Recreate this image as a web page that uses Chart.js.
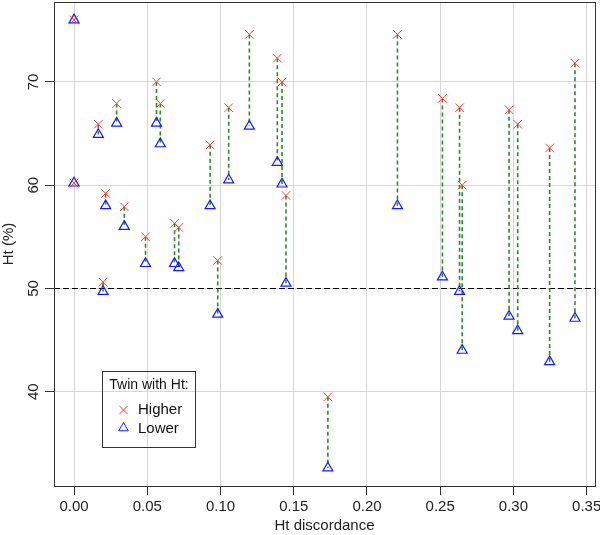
<!DOCTYPE html>
<html>
<head>
<meta charset="utf-8">
<script src="https://cdn.jsdelivr.net/npm/chart.js@4/dist/chart.umd.min.js"></script>
<style>
  html, body { margin: 0; padding: 0; background: #fff; }
  #wrap { width: 600px; height: 535px; }
</style>
</head>
<body>
<div id="wrap"><canvas id="c" width="600" height="535"></canvas></div>
<script>
// ---- data ----
const discordance = [0, 0, 0.0166, 0.0198, 0.0216, 0.0291, 0.0343, 0.0488, 0.0563, 0.0589, 0.0686, 0.0715, 0.0929, 0.0981, 0.1056, 0.1197, 0.1388, 0.1420, 0.1447, 0.1733, 0.2208, 0.2515, 0.2632, 0.2650, 0.2970, 0.3029, 0.3247, 0.3420];
const htHigher = [76.0, 60.2, 65.9, 50.6, 59.2, 67.9, 57.9, 55.0, 70.0, 67.9, 56.3, 55.9, 63.9, 52.7, 67.5, 74.6, 72.3, 70.0, 59.0, 39.5, 74.6, 68.4, 67.5, 60.0, 67.3, 65.9, 63.6, 71.8];
const htLower  = [76.0, 60.2, 64.9, 49.7, 58.0, 66.0, 56.0, 52.4, 66.0, 64.0, 52.4, 52.0, 58.0, 47.5, 60.5, 65.7, 62.2, 60.1, 50.5, 32.6, 58.0, 51.1, 49.7, 44.0, 47.3, 45.9, 42.9, 47.1];
const xTicks = [0, 0.05, 0.10, 0.15, 0.20, 0.25, 0.30, 0.35];
const yTicks = [40, 50, 60, 70];
const refLine = 50;
const legendTitle = 'Twin with Ht:';
const legendLabels = ['Higher', 'Lower'];

// ---- derived ----
const xSpan = Math.max(...discordance) - Math.min(...discordance);
const allY = htHigher.concat(htLower);
const ySpan = Math.max(...allY) - Math.min(...allY);
const xMin = Math.min(...discordance) - 0.04 * xSpan, xMax = Math.max(...discordance) + 0.04 * xSpan;
const yMin = Math.min(...allY) - 0.04 * ySpan, yMax = Math.max(...allY) + 0.04 * ySpan;

const higherPts = discordance.map((x, i) => ({x, y: htHigher[i]}));
const lowerPts = discordance.map((x, i) => ({x, y: htLower[i]}));
const linkPts = [];
discordance.forEach((x, i) => {
  linkPts.push({x, y: htHigher[i]}, {x, y: htLower[i]}, {x, y: null});
});

const FONT = "'Liberation Sans', Arial, sans-serif";
const RED = '#ff3b3b', BLUE = '#1a1aff', GREEN = '#2a8a2a', AXIS = '#333333', GRID = '#d6d6d6';

const framePlugin = {
  id: 'frame',
  beforeDatasetsDraw(chart) {
    const {ctx, chartArea: a, scales: {y}} = chart;
    const py = y.getPixelForValue(refLine);
    ctx.save();
    ctx.strokeStyle = '#000';
    ctx.lineWidth = 1;
    ctx.setLineDash([6, 3]);
    ctx.beginPath();
    ctx.moveTo(a.left, Math.round(py) + 0.5);
    ctx.lineTo(a.right, Math.round(py) + 0.5);
    ctx.stroke();
    ctx.restore();
  },
  afterDraw(chart) {
    const {ctx, chartArea: a} = chart;
    ctx.save();
    ctx.strokeStyle = AXIS;
    ctx.lineWidth = 1;
    ctx.strokeRect(Math.round(a.left) + 0.5, Math.round(a.top) + 0.5, Math.round(a.right - a.left), Math.round(a.bottom - a.top));
    // legend
    const bx = 102.5, by = 371.5, bw = 93, bh = 76;
    ctx.strokeRect(bx, by, bw, bh);
    ctx.fillStyle = '#111';
    ctx.textBaseline = 'middle';
    ctx.textAlign = 'center';
    ctx.font = '14px ' + FONT;
    ctx.fillText(legendTitle, bx + bw / 2, 385);
    ctx.textAlign = 'left';
    ctx.font = '15px ' + FONT;
    ctx.fillText(legendLabels[0], 138, 410);
    ctx.fillText(legendLabels[1], 138, 429);
    // markers
    ctx.lineWidth = 1;
    ctx.strokeStyle = RED;
    const mx = 123.5, r = 4.2;
    ctx.beginPath();
    ctx.moveTo(mx - r, 410 - r); ctx.lineTo(mx + r, 410 + r);
    ctx.moveTo(mx + r, 410 - r); ctx.lineTo(mx - r, 410 + r);
    ctx.stroke();
    ctx.strokeStyle = BLUE;
    const tr = 5.5, ty = 428;
    ctx.beginPath();
    ctx.moveTo(mx, ty - tr);
    ctx.lineTo(mx + tr * 0.866, ty + tr * 0.5);
    ctx.lineTo(mx - tr * 0.866, ty + tr * 0.5);
    ctx.closePath();
    ctx.stroke();
    ctx.restore();
  }
};

new Chart(document.getElementById('c'), {
  type: 'scatter',
  data: {
    datasets: [
      {
        label: 'link', type: 'line', data: linkPts, showLine: true, spanGaps: false,
        borderColor: GREEN, borderWidth: 1.6, borderDash: [4, 3], pointRadius: 0, order: 3, clip: false
      },
      {
        label: legendLabels[0], data: higherPts, pointStyle: 'crossRot', pointRadius: 6,
        borderColor: RED, backgroundColor: RED, pointBorderWidth: 1, order: 1, clip: false
      },
      {
        label: legendLabels[1], data: lowerPts, pointStyle: 'triangle', pointRadius: 5.8,
        borderColor: BLUE, backgroundColor: 'rgba(0,0,0,0)', pointBorderWidth: 1.2, order: 2, clip: false
      }
    ]
  },
  options: {
    responsive: false,
    animation: false,
    devicePixelRatio: 1,
    layout: { autoPadding: false, padding: { top: 2, right: 5, left: 0, bottom: 0 } },
    plugins: { legend: { display: false }, tooltip: { enabled: false } },
    scales: {
      x: {
        type: 'linear', min: xMin, max: xMax,
        afterBuildTicks: s => { s.ticks = xTicks.map(v => ({value: v})); },
        afterFit: s => { s.height = 49; s.paddingLeft = 0; s.paddingRight = 0; },
        ticks: { callback: v => Number(v).toFixed(2), color: '#222', font: { family: FONT, size: 15 }, padding: 3, maxRotation: 0, autoSkip: false },
        grid: { color: GRID, lineWidth: 1, tickColor: AXIS, tickLength: 9, drawTicks: true },
        border: { color: AXIS, width: 1 },
        title: { display: true, text: 'Ht discordance', color: '#222', font: { family: FONT, size: 15 }, padding: { top: 0, bottom: 0 } }
      },
      y: {
        type: 'linear', min: yMin, max: yMax,
        afterBuildTicks: s => { s.ticks = yTicks.map(v => ({value: v})); },
        afterFit: s => { s.width = 54; s.paddingTop = 0; s.paddingBottom = 0; },
        ticks: { color: '#222', font: { family: FONT, size: 15 }, padding: 3, minRotation: 90, maxRotation: 90, crossAlign: 'center' },
        grid: { color: GRID, lineWidth: 1, tickColor: AXIS, tickLength: 9, drawTicks: true },
        border: { color: AXIS, width: 1 },
        title: { display: true, text: 'Ht (%)', color: '#222', font: { family: FONT, size: 15 }, padding: { top: 0, bottom: 0 } }
      }
    }
  },
  plugins: [framePlugin]
});
</script>
</body>
</html>
